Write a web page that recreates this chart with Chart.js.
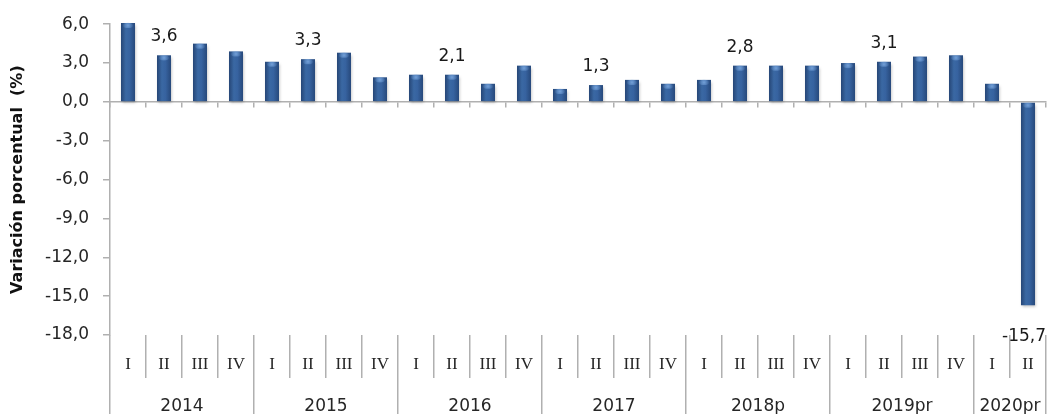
<!DOCTYPE html>
<html><head><meta charset="utf-8">
<script src="https://cdn.jsdelivr.net/npm/chart.js@4.4.1/dist/chart.umd.min.js"></script>
<style>html,body{margin:0;padding:0;background:#fff;}#wrap{width:1050px;height:414px;}</style>
</head><body><div id="wrap"><canvas id="c" width="1050" height="414"></canvas></div>
<script>
// ---- data ----
const years = ['2014', '2015', '2016', '2017', '2018p', '2019pr', '2020pr'];
const quartersPerYear = [4, 4, 4, 4, 4, 4, 2];
const quarterNames = ['I', 'II', 'III', 'IV'];
const values = [6.1, 3.6, 4.5, 3.9, 3.1, 3.3, 3.8, 1.9, 2.1, 2.1, 1.4, 2.8, 1.0, 1.3, 1.7, 1.4, 1.7, 2.8, 2.8, 2.8, 3.0, 3.1, 3.5, 3.6, 1.4, -15.7];
const labelledIdx = [1, 5, 9, 13, 17, 21, 25];
const yMin = -18, yMax = 6, yStep = 3;
const yTitle = 'Variación porcentual  (%)';

// ---- derived ----
const categories = [];
const yearBounds = [0];
const yearCenters = [];
quartersPerYear.forEach((n, k) => {
  for (let q = 0; q < n; q++) categories.push(quarterNames[q]);
  const start = yearBounds[yearBounds.length - 1];
  yearCenters.push(start + n / 2);
  yearBounds.push(start + n);
});
const yearTickValues = [...yearBounds, ...yearCenters].sort((a, b) => a - b);
const fmt = v => v.toFixed(1).replace('.', ',');

const GRAY = '#b0b0b0';
const TXT = '#262626';
const BAR_FRAC = 0.39;

function barGradient(ctx) {
  const chart = ctx.chart;
  const xs = chart.scales.x;
  if (!xs || !chart.chartArea) return '#30609a';
  const cx = xs.getPixelForValue(ctx.dataIndex);
  const w = xs.width / categories.length * BAR_FRAC;
  const g = chart.ctx.createLinearGradient(cx - w / 2, 0, cx + w / 2, 0);
  g.addColorStop(0, '#264676');
  g.addColorStop(0.35, '#3a68a3');
  g.addColorStop(0.6, '#3763a0');
  g.addColorStop(1, '#27497b');
  return g;
}

const shadowPlugin = {
  id: 'barShadow',
  beforeDatasetDraw(chart) {
    const c = chart.ctx; c.save();
    c.shadowColor = 'rgba(0,0,0,0.28)'; c.shadowBlur = 3; c.shadowOffsetX = 1; c.shadowOffsetY = 2;
  },
  afterDatasetDraw(chart) {
    chart.ctx.restore();
    const c = chart.ctx;
    const meta = chart.getDatasetMeta(0);
    meta.data.forEach(bar => {
      const top = Math.min(bar.y, bar.base);
      const w = bar.width;
      const g = c.createRadialGradient(bar.x, top + 2.5, 0, bar.x, top + 2.5, w * 0.4);
      g.addColorStop(0, 'rgba(125,170,225,0.85)');
      g.addColorStop(1, 'rgba(125,170,225,0)');
      c.save();
      c.beginPath();
      c.ellipse(bar.x, top + 2.5, w * 0.36, 2.6, 0, 0, Math.PI * 2);
      c.fillStyle = g; c.fill();
      c.restore();
    });
  }
};

const labelPlugin = {
  id: 'valLabels',
  afterDatasetsDraw(chart) {
    const c = chart.ctx;
    const meta = chart.getDatasetMeta(0);
    c.save();
    c.font = '17px "DejaVu Sans"';
    c.fillStyle = '#1a1a1a';
    c.textAlign = 'center';
    c.textBaseline = 'alphabetic';
    labelledIdx.forEach(i => {
      const bar = meta.data[i];
      const v = values[i];
      const t = fmt(v);
      const w = c.measureText(t).width;
      let x = bar.x;
      if (x + w / 2 > chart.width - 4) x = chart.width - 4 - w / 2;
      const y = v >= 0 ? bar.y - 14 : bar.y + 36;
      c.fillText(t, x, y);
    });
    c.restore();
  }
};

new Chart(document.getElementById('c'), {
  type: 'bar',
  data: {
    labels: categories,
    datasets: [{
      data: values,
      backgroundColor: barGradient,
      borderWidth: 0,
      barPercentage: BAR_FRAC,
      categoryPercentage: 1,
      clip: false,
      xAxisID: 'x', yAxisID: 'y'
    }]
  },
  options: {
    responsive: false,
    devicePixelRatio: 1,
    animation: false,
    layout: { padding: { top: 22, right: 4, bottom: 0, left: 0 } },
    plugins: { legend: { display: false }, tooltip: { enabled: false } },
    scales: {
      y: {
        type: 'linear', position: 'left', min: yMin, max: yMax,
        ticks: { stepSize: yStep, callback: v => fmt(v), color: TXT, font: { family: '"DejaVu Sans"', size: 17 }, padding: 14 },
        grid: { drawOnChartArea: false, drawTicks: true, tickLength: 7, color: GRAY, tickColor: GRAY, lineWidth: 1.5 },
        border: { display: true, color: GRAY, width: 1.5 },
        title: { display: true, text: yTitle, color: '#111', font: { family: '"DejaVu Sans"', size: 16, weight: 'bold' }, padding: { top: 8, bottom: 0 } },
        afterFit: s => { s.width = 110; }
      },
      x: {
        type: 'category', position: 'bottom', weight: 0, offset: true,
        grid: { offset: true, drawOnChartArea: false, drawTicks: true, tickLength: 43, color: GRAY, tickColor: GRAY, lineWidth: 1.5, tickWidth: 1.5 },
        border: { display: false },
        ticks: { autoSkip: false, maxRotation: 0, minRotation: 0, padding: -24, color: TXT, font: { family: '"Liberation Serif"', size: 17 } },
        afterFit: s => { s.height = 43; }
      },
      xYear: {
        type: 'linear', axis: 'x', position: 'bottom', weight: 1, min: 0, max: categories.length, offset: false,
        afterBuildTicks: s => { s.ticks = yearTickValues.map(v => ({ value: v })); },
        ticks: {
          autoSkip: false, maxRotation: 0, minRotation: 0, padding: -18, color: TXT,
          font: { family: '"DejaVu Sans"', size: 17 },
          callback: v => { const k = yearCenters.indexOf(v); return k >= 0 ? years[k] : ''; }
        },
        grid: {
          offset: false,
          drawOnChartArea: false, drawTicks: true, tickLength: 36, lineWidth: 1.5, tickWidth: 1.5,
          color: c => (c.tick && yearBounds.includes(c.tick.value)) ? GRAY : 'rgba(0,0,0,0)',
          tickColor: c => (c.tick && yearBounds.includes(c.tick.value)) ? GRAY : 'rgba(0,0,0,0)'
        },
        border: { display: false },
        afterFit: s => { s.height = 36; }
      },
      x0: {
        type: 'category', axis: 'x', position: { y: 0 }, offset: true,
        grid: { offset: true, drawOnChartArea: false, drawTicks: true, tickLength: 5, color: GRAY, tickColor: GRAY, lineWidth: 1.5 },
        border: { display: true, color: GRAY, width: 1.5 },
        ticks: { display: false },
        afterFit: s => { s.height = 0; }
      }
    }
  },
  plugins: [shadowPlugin, labelPlugin]
});
</script>
</body></html>
